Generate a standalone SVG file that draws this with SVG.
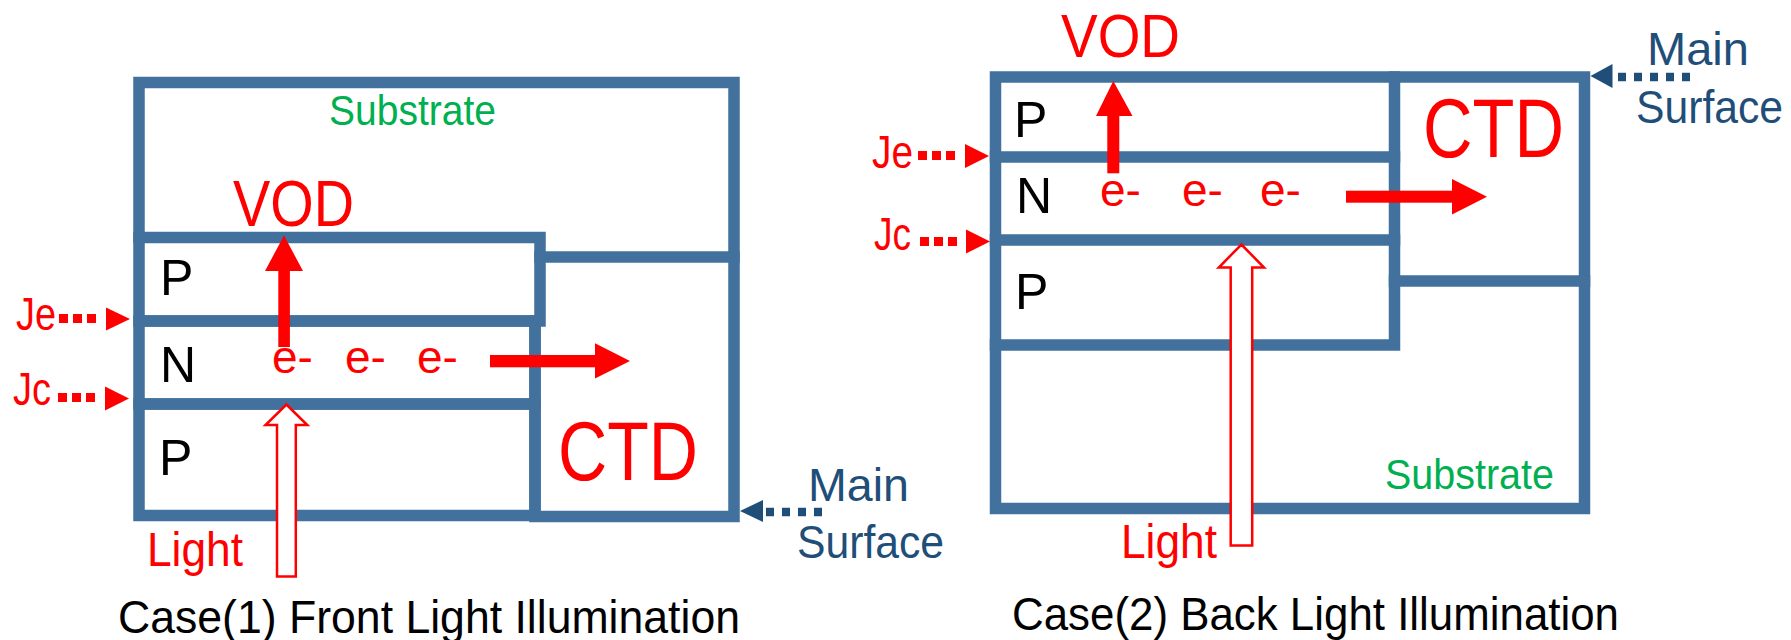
<svg xmlns="http://www.w3.org/2000/svg" width="1791" height="640" viewBox="0 0 1791 640">
<style>
  .frame{fill:none;stroke:#41719C;stroke-width:11.5;stroke-linecap:square}
  .t{font-family:"Liberation Sans",Arial,sans-serif}
  .red{fill:#FF0000}
  .blk{fill:#000000}
  .grn{fill:#00B050}
  .nav{fill:#1F4E79}
  .dotr{fill:none;stroke:#FF0000;stroke-width:9;stroke-dasharray:9 5}
  .dotb{fill:none;stroke:#1F4E79;stroke-width:8.5;stroke-dasharray:8 8}
  .light{fill:#FFFFFF;stroke:#FF0000;stroke-width:2.5}
</style>
<rect width="1791" height="640" fill="#FFFFFF"/>

<!-- ===== Case 1 ===== -->
<g id="case1-substrate">
  <path class="frame" d="M139,237.5 V82.5 H734 V257 H540"/>
  <text class="t grn" x="329" y="125" font-size="43" textLength="167" lengthAdjust="spacingAndGlyphs">Substrate</text>
</g>
<g id="case1-p-upper">
  <path class="frame" d="M139,237.5 H540 V321 H139 Z"/>
  <text class="t blk" x="160" y="295" font-size="50">P</text>
</g>
<g id="case1-n">
  <path class="frame" d="M139,321 H535 V404 H139 Z"/>
  <text class="t blk" x="160" y="382" font-size="50">N</text>
  <text class="t red" x="272" y="373" font-size="46">e-</text>
  <text class="t red" x="345" y="373" font-size="46">e-</text>
  <text class="t red" x="417" y="373" font-size="46">e-</text>
</g>
<g id="case1-p-lower">
  <path class="frame" d="M139,404 H535 V515.5 H139 Z"/>
  <text class="t blk" x="159" y="475" font-size="50">P</text>
</g>
<g id="case1-ctd">
  <path class="frame" d="M535,321 V516.5 H734 V257"/>
  <text class="t red" x="558" y="480" font-size="83" textLength="140" lengthAdjust="spacingAndGlyphs">CTD</text>
</g>
<g id="case1-labels">
  <text class="t red" x="233" y="226" font-size="64" textLength="121" lengthAdjust="spacingAndGlyphs">VOD</text>
  <text class="t red" x="16" y="330" font-size="46" textLength="40" lengthAdjust="spacingAndGlyphs">Je</text>
  <text class="t red" x="13" y="405" font-size="46" textLength="38" lengthAdjust="spacingAndGlyphs">Jc</text>
  <text class="t red" x="147" y="566" font-size="48" textLength="96" lengthAdjust="spacingAndGlyphs">Light</text>
  <text class="t nav" x="808" y="501" font-size="46" textLength="101" lengthAdjust="spacingAndGlyphs">Main</text>
  <text class="t nav" x="797" y="558" font-size="46" textLength="147" lengthAdjust="spacingAndGlyphs">Surface</text>
  <text class="t blk" x="118" y="633" font-size="46" textLength="622" lengthAdjust="spacingAndGlyphs">Case(1) Front Light Illumination</text>
</g>

<!-- ===== Case 2 ===== -->
<g id="case2-frame">
  <path class="frame" d="M995.5,77 H1584.5 V508.5 H995.5 Z"/>
</g>
<g id="case2-p-upper">
  <path class="frame" d="M995.5,157 H1394.5"/>
  <text class="t blk" x="1014" y="137" font-size="50">P</text>
</g>
<g id="case2-n">
  <path class="frame" d="M995.5,240 H1394.5"/>
  <text class="t blk" x="1016" y="213" font-size="50">N</text>
  <text class="t red" x="1100" y="206" font-size="46">e-</text>
  <text class="t red" x="1182" y="206" font-size="46">e-</text>
  <text class="t red" x="1260" y="206" font-size="46">e-</text>
</g>
<g id="case2-p-lower">
  <path class="frame" d="M995.5,345 H1394.5 V77"/>
  <text class="t blk" x="1015" y="309" font-size="50">P</text>
</g>
<g id="case2-ctd">
  <path class="frame" d="M1394.5,281 H1584.5"/>
  <text class="t red" x="1423" y="157" font-size="83" textLength="141" lengthAdjust="spacingAndGlyphs">CTD</text>
</g>
<g id="case2-substrate">
  <text class="t grn" x="1385" y="489" font-size="43" textLength="169" lengthAdjust="spacingAndGlyphs">Substrate</text>
</g>
<g id="case2-labels">
  <text class="t red" x="1061" y="57" font-size="62" textLength="119" lengthAdjust="spacingAndGlyphs">VOD</text>
  <text class="t red" x="872" y="168" font-size="46" textLength="41" lengthAdjust="spacingAndGlyphs">Je</text>
  <text class="t red" x="874" y="250" font-size="46" textLength="37" lengthAdjust="spacingAndGlyphs">Jc</text>
  <text class="t red" x="1121" y="558" font-size="48" textLength="96" lengthAdjust="spacingAndGlyphs">Light</text>
  <text class="t nav" x="1647" y="65" font-size="46" textLength="102" lengthAdjust="spacingAndGlyphs">Main</text>
  <text class="t nav" x="1636" y="123" font-size="46" textLength="147" lengthAdjust="spacingAndGlyphs">Surface</text>
  <text class="t blk" x="1012" y="630" font-size="46" textLength="607" lengthAdjust="spacingAndGlyphs">Case(2) Back Light Illumination</text>
</g>

<!-- ===== Connectors ===== -->
<g id="connectors">
  <!-- Case 1 -->
  <path class="dotr" d="M59,318.5 H98"/>
  <polygon class="red" points="106,307.5 130,319 106,330.5"/>
  <path class="dotr" d="M58,397.5 H97"/>
  <polygon class="red" points="105,386.5 129,398.5 105,410.5"/>
  <path class="dotb" d="M766,512 H823"/>
  <polygon class="nav" points="763,500 740,511 763,522"/>
  <rect class="red" x="278.3" y="268" width="11.6" height="79"/>
  <polygon class="red" points="265,271 284,235.5 303,271"/>
  <rect class="red" x="490" y="355" width="108" height="12.3"/>
  <polygon class="red" points="595,343.3 630,361 595,378.5"/>
  <path class="light" d="M286.4,404.5 L307.3,425 H295.8 V576.5 H277 V425 H265.5 Z"/>
  <!-- Case 2 -->
  <path class="dotr" d="M918,155.5 H959"/>
  <polygon class="red" points="965,144 989,156 965,168"/>
  <path class="dotr" d="M920,241.5 H961"/>
  <polygon class="red" points="966,229.5 990,241.5 966,253.5"/>
  <path class="dotb" d="M1618,77 H1692"/>
  <polygon class="nav" points="1612.5,64 1590.5,76 1612.5,88"/>
  <rect class="red" x="1107.3" y="113" width="12" height="60.3"/>
  <polygon class="red" points="1096,116 1113.3,81 1132.5,116"/>
  <rect class="red" x="1346" y="190.7" width="108" height="12"/>
  <polygon class="red" points="1452,179 1487,196.7 1452,214.5"/>
  <path class="light" d="M1241.4,244.5 L1264,267.5 H1252.2 V545.5 H1230.7 V267.5 H1218.8 Z"/>
</g>
</svg>
